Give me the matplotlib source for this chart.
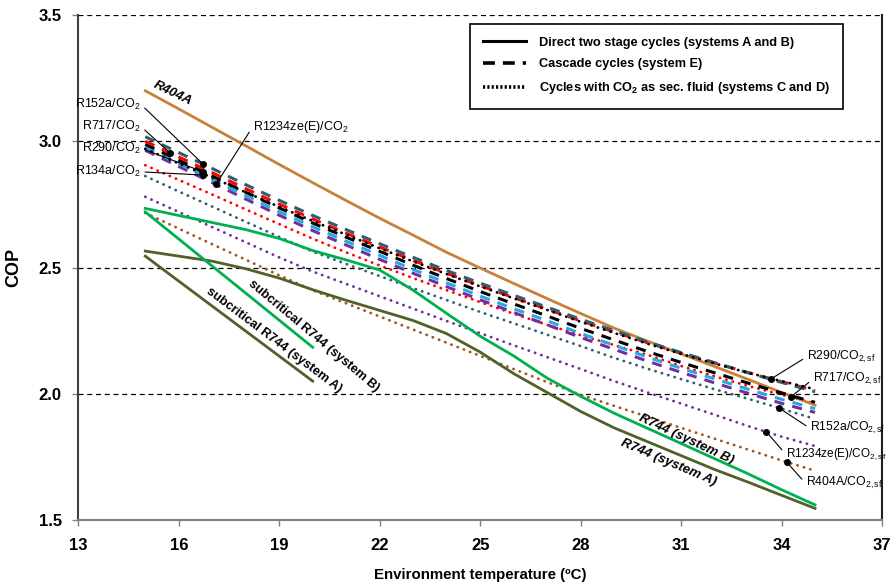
import numpy as np
import matplotlib
matplotlib.use("Agg")
import matplotlib.pyplot as plt
from matplotlib.lines import Line2D

plt.rcParams['font.family'] = ['Liberation Sans', 'DejaVu Sans']
plt.rcParams['mathtext.fontset'] = 'custom'
plt.rcParams['mathtext.rm'] = 'Liberation Sans'
plt.rcParams['mathtext.it'] = 'Liberation Sans:italic'
plt.rcParams['mathtext.bf'] = 'Liberation Sans:bold'

# ---------------- data ----------------
temps = [15, 16, 17, 18, 19, 20, 21, 22, 23, 24, 25, 26, 27, 28, 29, 30, 31, 32, 33, 34, 35]
sub_temps = [15, 20]

# Direct two stage cycles (solid)
r404a = [3.200, 3.128, 3.055, 2.982, 2.908, 2.836, 2.765, 2.695, 2.628, 2.560, 2.498,
         2.437, 2.377, 2.318, 2.260, 2.208, 2.158, 2.108, 2.057, 2.005, 1.955]
r744_b = [2.734, 2.706, 2.678, 2.650, 2.615, 2.567, 2.530, 2.490, 2.410, 2.318, 2.228,
          2.150, 2.062, 1.990, 1.923, 1.863, 1.803, 1.743, 1.683, 1.620, 1.560]
r744_a = [2.565, 2.545, 2.525, 2.495, 2.458, 2.412, 2.370, 2.330, 2.290, 2.238, 2.165,
          2.080, 2.005, 1.930, 1.865, 1.810, 1.755, 1.700, 1.650, 1.598, 1.546]
sub_r744_b = [2.720, 2.184]
sub_r744_a = [2.545, 2.050]

# Cascade cycles (dashed)
r152a_co2 = [3.018, 2.955, 2.892, 2.828, 2.766, 2.706, 2.650, 2.594, 2.540, 2.488, 2.438,
             2.390, 2.343, 2.295, 2.250, 2.205, 2.163, 2.123, 2.083, 2.045, 2.008]
r717_co2 = [3.000, 2.938, 2.875, 2.812, 2.751, 2.692, 2.636, 2.581, 2.528, 2.477, 2.428,
            2.381, 2.335, 2.289, 2.245, 2.202, 2.161, 2.122, 2.084, 2.048, 2.013]
r290_co2 = [2.988, 2.925, 2.862, 2.798, 2.736, 2.676, 2.620, 2.564, 2.509, 2.456, 2.405,
            2.356, 2.308, 2.259, 2.213, 2.167, 2.124, 2.083, 2.042, 2.003, 1.966]
r134a_co2 = [2.976, 2.912, 2.849, 2.784, 2.721, 2.661, 2.604, 2.548, 2.492, 2.439, 2.387,
             2.337, 2.289, 2.239, 2.192, 2.145, 2.101, 2.059, 2.018, 1.978, 1.941]
r1234ze_co2 = [2.964, 2.900, 2.836, 2.771, 2.707, 2.646, 2.589, 2.532, 2.477, 2.424, 2.372,
               2.322, 2.273, 2.223, 2.176, 2.129, 2.085, 2.043, 2.002, 1.962, 1.926]

# CO2 as secondary fluid (dotted)
r290_sf = [2.970, 2.912, 2.856, 2.798, 2.740, 2.684, 2.630, 2.576, 2.524, 2.474, 2.425,
           2.378, 2.332, 2.285, 2.241, 2.198, 2.158, 2.120, 2.083, 2.050, 2.018]
r717_sf = [2.905, 2.847, 2.789, 2.730, 2.672, 2.614, 2.560, 2.508, 2.458, 2.410, 2.363,
           2.317, 2.273, 2.232, 2.193, 2.154, 2.110, 2.069, 2.031, 1.996, 1.962]
r152a_sf = [2.862, 2.801, 2.741, 2.681, 2.621, 2.563, 2.514, 2.466, 2.418, 2.371, 2.324,
            2.279, 2.234, 2.189, 2.142, 2.099, 2.058, 2.018, 1.980, 1.941, 1.900]
r1234ze_sf = [2.780, 2.720, 2.660, 2.600, 2.540, 2.484, 2.435, 2.386, 2.337, 2.288, 2.240,
              2.192, 2.145, 2.098, 2.050, 2.005, 1.961, 1.917, 1.872, 1.830, 1.793]
r404a_sf = [2.716, 2.654, 2.592, 2.531, 2.469, 2.410, 2.358, 2.306, 2.254, 2.202, 2.150,
            2.098, 2.046, 1.996, 1.952, 1.909, 1.865, 1.822, 1.779, 1.736, 1.695]

x_ticks = [13, 16, 19, 22, 25, 28, 31, 34, 37]
y_ticks = [1.5, 2.0, 2.5, 3.0, 3.5]

# colours
C_ORANGE = '#C8803A'
C_GREEN = '#00B050'
C_OLIVE = '#4F6228'
C_TEAL = '#2F5F6E'
C_RED = '#FF0000'
C_BLUE = '#29A8E0'
C_PURPLE = '#7030A0'
C_BROWN = '#A0561E'

# ---------------- figure ----------------
fig = plt.figure(figsize=(8.92, 5.84), dpi=100)
ax = fig.add_axes([78.3 / 892, 64 / 584, 803.7 / 892, 505 / 584])

DOT = dict(linestyle=(0, (0.1, 2.3)), dash_capstyle='round', lw=2.0)
DASH = dict(linestyle=(0, (3.3, 2.7)), dash_capstyle='butt', lw=2.2)

# dotted
ax.plot(temps, r404a_sf, color=C_BROWN, **DOT, zorder=3)
ax.plot(temps, r1234ze_sf, color=C_PURPLE, **DOT, zorder=3)
ax.plot(temps, r152a_sf, color=C_TEAL, **DOT, zorder=3)
ax.plot(temps, r717_sf, color=C_RED, **DOT, zorder=3)

# solid
ax.plot(temps, r744_a, color=C_OLIVE, lw=2.0, zorder=4)
ax.plot(sub_temps, sub_r744_a, color=C_OLIVE, lw=2.0, zorder=4)
ax.plot(temps, r744_b, color=C_GREEN, lw=2.0, zorder=4)
ax.plot(sub_temps, sub_r744_b, color=C_GREEN, lw=2.0, zorder=4)
ax.plot(temps, r404a, color=C_ORANGE, lw=2.0, zorder=4)

# dashed
ax.plot(temps, r1234ze_co2, color=C_PURPLE, **DASH, zorder=5)
ax.plot(temps, r134a_co2, color=C_BLUE, **DASH, zorder=5)
ax.plot(temps, r290_co2, color='black', **DASH, zorder=5)
ax.plot(temps, r717_co2, color=C_RED, **DASH, zorder=5)
ax.plot(temps, r152a_co2, color=C_TEAL, **DASH, zorder=5)
ax.plot(temps, r290_sf, color='black', **DOT, zorder=6)

# axes
ax.set_xlim(13, 37)
ax.set_ylim(1.5, 3.5)
ax.set_xticks(x_ticks)
ax.set_yticks(y_ticks)
ax.set_xticklabels([str(v) for v in x_ticks], fontsize=12, fontweight='bold')
ax.set_yticklabels([f'{v:.1f}' for v in y_ticks], fontsize=12, fontweight='bold')
ax.tick_params(axis='x', direction='out', length=4, width=1, color='#808080', pad=9)
ax.tick_params(axis='y', direction='out', length=4, width=1, color='#808080', pad=8)
ax.yaxis.grid(True, linestyle=(0, (4, 3)), color='black', lw=0.9)
ax.set_axisbelow(True)
ax.spines['top'].set_visible(False)
ax.spines['left'].set_color('#404040')
ax.spines['left'].set_linewidth(1.5)
ax.spines['bottom'].set_color('#808080')
ax.spines['bottom'].set_linewidth(1.5)
ax.spines['right'].set_color('#202020')
ax.spines['right'].set_linewidth(1.5)
ax.set_xlabel('Environment temperature (ºC)', fontsize=10.8, fontweight='bold', labelpad=11)
ax.set_ylabel('COP', fontsize=13, fontweight='bold', labelpad=12)

# legend
handles = [Line2D([], [], color='black', lw=2.2),
           Line2D([], [], color='black', lw=2.6, linestyle=(0, (3.3, 2.2))),
           Line2D([], [], color='black', lw=2.6, linestyle=(0, (0.6, 0.6)))]
labels = ['Direct two stage cycles (systems A and B)',
          'Cascade cycles (system E)',
          r'Cycles with CO$_\mathbf{2}$ as sec. fluid (systems C and D)']
leg = ax.legend(handles, labels, loc='upper right', bbox_to_anchor=(0.951, 0.982),
                borderaxespad=0, fancybox=False, framealpha=1, edgecolor='black',
                prop=dict(weight='bold', size=9.2), handlelength=3.4,
                handletextpad=1.0, labelspacing=0.75, borderpad=1.0)
leg.get_frame().set_linewidth(1.2)

# line labels
ax.text(15.83, 3.19, 'R404A', rotation=-26, fontsize=9.5, fontweight='bold',
        style='italic', ha='center', va='center')
ax.text(20.04, 2.229, 'subcritical R744 (system B)', rotation=-40, fontsize=9.2,
        fontweight='bold', ha='center', va='center', rotation_mode='anchor')
ax.text(18.85, 2.213, 'subcritical R744 (system A)', rotation=-37, fontsize=9.2,
        fontweight='bold', ha='center', va='center', rotation_mode='anchor')
ax.text(31.14, 1.821, 'R744 (system B)', rotation=-25, fontsize=9.5,
        fontweight='bold', style='italic', ha='center', va='center', rotation_mode='anchor')
ax.text(30.63, 1.728, 'R744 (system A)', rotation=-23, fontsize=9.5,
        fontweight='bold', style='italic', ha='center', va='center', rotation_mode='anchor')


def pointer(label, series, x_at, tx, ty, ha, size=9.0):
    y_at = float(np.interp(x_at, temps, series))
    rel = (1.0, 0.5) if ha == 'right' else (0.0, 0.5)
    ax.annotate(label, xy=(x_at, y_at), xytext=(tx, ty), textcoords='data',
                ha=ha, va='center', fontsize=size, annotation_clip=False,
                arrowprops=dict(arrowstyle='-', color='black', lw=0.8,
                                shrinkA=1, shrinkB=0, relpos=rel), zorder=8)
    ax.plot([x_at], [y_at], 'o', color='black', ms=4, zorder=9)


pointer(r'R152a/CO$_2$', r152a_co2, 16.73, 14.87, 3.146, 'right')
pointer(r'R717/CO$_2$', r717_co2, 15.74, 14.87, 3.058, 'right')
pointer(r'R290/CO$_2$', r290_co2, 16.73, 14.87, 2.972, 'right')
pointer(r'R134a/CO$_2$', r134a_co2, 16.73, 14.87, 2.879, 'right')
pointer(r'R1234ze(E)/CO$_2$', r1234ze_co2, 17.11, 18.21, 3.058, 'left')

pointer(r'R290/CO$_{2,\mathrm{sf}}$', r290_sf, 33.70, 34.75, 2.146, 'left', 8.8)
pointer(r'R717/CO$_{2,\mathrm{sf}}$', r717_sf, 34.27, 34.93, 2.057, 'left', 8.8)
pointer(r'R152a/CO$_{2,\mathrm{sf}}$', r152a_sf, 33.92, 34.85, 1.863, 'left', 8.8)
pointer(r'R1234ze(E)/CO$_{2,\mathrm{sf}}$', r1234ze_sf, 33.55, 34.12, 1.761, 'left', 8.5)
pointer(r'R404A/CO$_{2,\mathrm{sf}}$', r404a_sf, 34.15, 34.72, 1.645, 'left', 8.8)

fig.savefig('out.png', dpi=100)
